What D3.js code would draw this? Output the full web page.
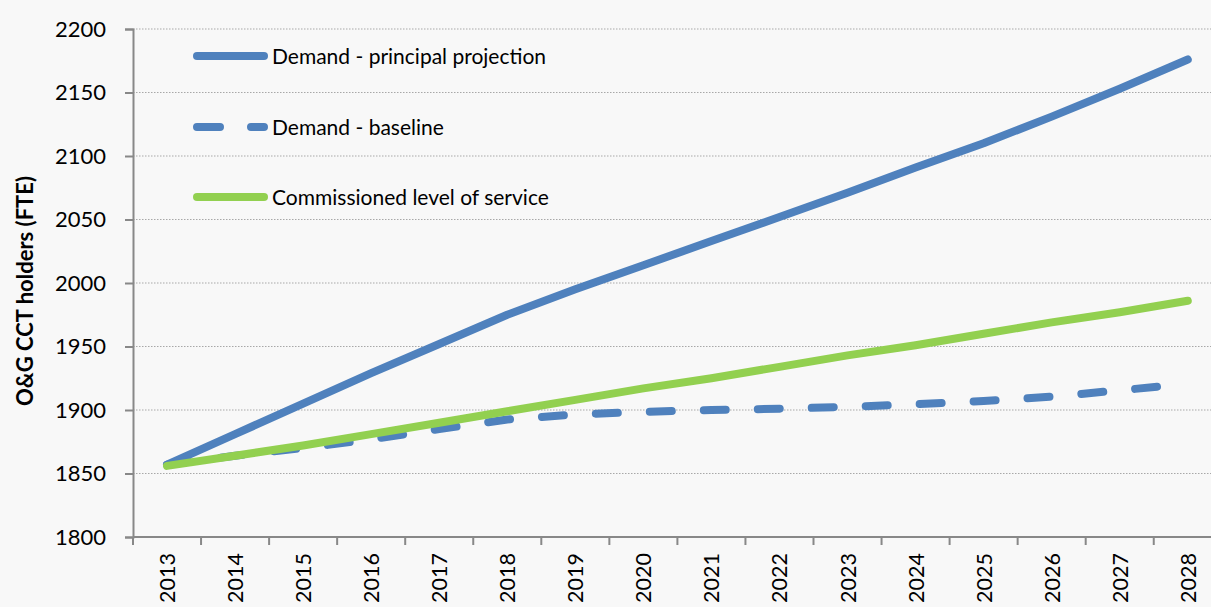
<!DOCTYPE html>
<html><head><meta charset="utf-8">
<script src="https://cdn.jsdelivr.net/npm/d3@7/dist/d3.min.js"></script>
<style>
html,body{margin:0;padding:0;background:#f8f8f8;overflow:hidden;}
svg{display:block;}
text{font-family:Lato,"Open Sans",sans-serif;fill:#000;}
</style></head>
<body><svg id="c" width="1211" height="607"></svg>
<script>
const years = ["2013","2014","2015","2016","2017","2018","2019","2020","2021","2022","2023","2024","2025","2026","2027","2028"];
const principal = [1857,1881,1905,1929,1952,1975,1995,2014,2033,2052,2071,2091,2110,2131,2153,2176];
const baseline = [1857,1864,1870,1877,1885,1892.5,1896.5,1898.5,1900,1901,1902.5,1904.5,1907,1910.5,1915.5,1920.5];
const commissioned = [1856,1864,1872,1881,1890,1899,1908,1917,1925,1934,1943,1951,1960,1969,1977,1986];
const yTicks = [1800,1850,1900,1950,2000,2050,2100,2150,2200];
const seriesNames = ["Demand - principal projection","Demand - baseline","Commissioned level of service"];

(function(){
const svg = d3.select("#c");
const mLeft = 133, bandW = 68.05, mTop = 29, mBottom = 537;
const x = d3.scaleBand().domain(years).range([mLeft, mLeft + bandW*years.length]).padding(0);
const y = d3.scaleLinear().domain([1800,2200]).range([mBottom, mTop]);
const cx = d => x(d) + x.bandwidth()/2;

// gridlines
svg.append("g").selectAll("line").data(yTicks.slice(1)).join("line")
  .attr("x1", mLeft).attr("x2", 1211).attr("y1", d=>y(d)).attr("y2", d=>y(d))
  .attr("stroke","#a8a8a8").attr("stroke-width",1).attr("stroke-dasharray","1.5,1.5");

// y axis
const yAxis = svg.append("g").attr("transform",`translate(${mLeft},0)`)
  .call(d3.axisLeft(y).tickValues(yTicks).tickSize(8).tickPadding(19).tickFormat(d3.format("d")));
yAxis.select(".domain").attr("stroke","#888").attr("stroke-width",2);
yAxis.selectAll(".tick line").attr("stroke","#888").attr("stroke-width",2);
yAxis.selectAll(".tick text").attr("font-size",22).attr("font-family","Lato,sans-serif").attr("fill","#000");

// x axis
const xg = svg.append("g");
xg.append("line").attr("x1",mLeft).attr("x2",1211).attr("y1",mBottom).attr("y2",mBottom)
  .attr("stroke","#888").attr("stroke-width",2);
xg.selectAll("line.t").data(years).join("line").attr("class","t")
  .attr("x1",d=>x(d)).attr("x2",d=>x(d)).attr("y1",mBottom).attr("y2",mBottom+8)
  .attr("stroke","#888").attr("stroke-width",2);
xg.selectAll("text").data(years).join("text")
  .attr("transform",d=>`translate(${cx(d)+8},${mBottom+16}) rotate(-90)`)
  .attr("text-anchor","end").attr("font-size",21.5).text(d=>d);

// y title
svg.append("text").attr("transform",`translate(33,291) rotate(-90)`)
  .attr("text-anchor","middle").attr("font-size",22).attr("font-weight","bold")
  .text("O&G CCT holders (FTE)");

const line = d3.line().x((d,i)=>cx(years[i])).y(d=>y(d));
const styles = [
  {data: principal, color:"#4f81bd", dash:null},
  {data: baseline, color:"#4f81bd", dash:"22,32"},
  {data: commissioned, color:"#92d050", dash:null}
];
styles.forEach(s=>{
  svg.append("path").datum(s.data).attr("d",line).attr("fill","none")
    .attr("stroke",s.color).attr("stroke-width",8).attr("stroke-linecap","round")
    .attr("stroke-linejoin","round").attr("stroke-dasharray",s.dash);
});

// legend
const legY = [56,127,197];
styles.forEach((s,i)=>{
  const g = svg.append("g");
  g.append("line").attr("x1",197).attr("x2",264).attr("y1",legY[i]).attr("y2",legY[i])
    .attr("stroke",s.color).attr("stroke-width",8).attr("stroke-linecap","round")
    .attr("stroke-dasharray", s.dash ? "23,31" : null);
  g.append("text").attr("x",272).attr("y",legY[i]+7.5).attr("font-size",21).text(seriesNames[i]);
});
})();
</script></body></html>
